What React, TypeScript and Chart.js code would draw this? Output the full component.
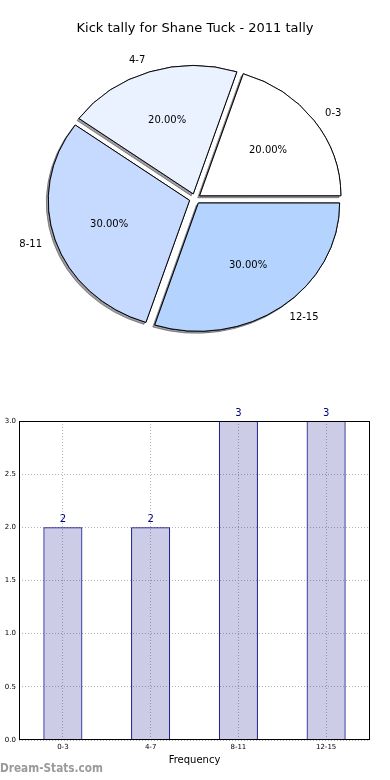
import React, { useEffect, useRef } from "react";
import { Chart, registerables } from "chart.js";

Chart.register(...registerables);

// ---- data ----
const chartTitle = "Kick tally for Shane Tuck - 2011 tally";
const categories = ["0-3", "4-7", "8-11", "12-15"];
const frequencies = [2, 2, 3, 3];
const sliceColors = ["#ffffff", "#eaf2ff", "#c6d9ff", "#b4d4ff"];
const yTickValues = [0, 0.5, 1, 1.5, 2, 2.5, 3];
const xAxisTitle = "Frequency";
const watermark = "Dream-Stats.com";

// ---- style ----
const FONT = "'DejaVu Sans', sans-serif";
const SQUASH = 0.908; // vertical squash of the pie (non-equal aspect)
const PIE_RADIUS = 141;
const EXPLODE = 22.8; // Chart.js arc offset (translation = offset / 4)

const pieDecor = {
  id: "pieDecor",
  beforeDatasetsDraw(chart: any) {
    const ctx = chart.ctx;
    const meta = chart.getDatasetMeta(0);
    const a0 = meta.data[0];
    const cx = a0.x;
    const cy = a0.y;
    ctx.save();
    ctx.translate(cx, cy);
    ctx.scale(1, SQUASH);
    ctx.translate(-cx, -cy);
    // shadow pass
    ctx.save();
    ctx.shadowColor = "rgba(60,60,70,0.5)";
    ctx.shadowOffsetX = -2;
    ctx.shadowOffsetY = 2;
    ctx.shadowBlur = 0;
    meta.data.forEach((a: any) => a.draw(ctx));
    ctx.restore();
  },
  afterDatasetsDraw(chart: any) {
    const ctx = chart.ctx;
    ctx.restore();
    const meta = chart.getDatasetMeta(0);
    const ds = chart.data.datasets[0];
    const total = ds.data.reduce((s: number, v: number) => s + v, 0);
    ctx.save();
    ctx.font = `10px ${FONT}`;
    ctx.fillStyle = "#000";
    ctx.textBaseline = "middle";
    meta.data.forEach((a: any, i: number) => {
      const { x, y, startAngle, endAngle, outerRadius } = a.getProps(
        ["x", "y", "startAngle", "endAngle", "outerRadius"],
        true
      );
      const mid = (startAngle + endAngle) / 2;
      const t = (a.options.offset || 0) / 4;
      const c = Math.cos(mid);
      const s = Math.sin(mid);
      const ex = x + c * t;
      const ey = y + s * t * SQUASH;
      ctx.textAlign = c > 0 ? "left" : "right";
      ctx.fillText(
        chart.data.labels[i],
        ex + c * outerRadius * 1.1,
        ey + s * outerRadius * 1.1 * SQUASH
      );
      ctx.textAlign = "center";
      ctx.fillText(
        ((ds.data[i] / total) * 100).toFixed(2) + "%",
        ex + c * outerRadius * 0.6,
        ey + s * outerRadius * 0.6 * SQUASH
      );
    });
    ctx.restore();
  },
};

const barDecor = {
  id: "barDecor",
  afterDatasetsDraw(chart: any) {
    const ctx = chart.ctx;
    const meta = chart.getDatasetMeta(0);
    const ds = chart.data.datasets[0];
    ctx.save();
    ctx.font = `10px ${FONT}`;
    ctx.fillStyle = "#000080";
    ctx.textAlign = "center";
    ctx.textBaseline = "alphabetic";
    meta.data.forEach((b: any, i: number) => {
      ctx.fillText(String(ds.data[i]), b.x, b.y - 5);
    });
    ctx.restore();
  },
  afterDraw(chart: any) {
    const { left, top, right, bottom } = chart.chartArea;
    const ctx = chart.ctx;
    ctx.save();
    ctx.strokeStyle = "#000";
    ctx.lineWidth = 1;
    ctx.strokeRect(
      Math.round(left) + 0.5,
      Math.round(top) + 0.5,
      Math.round(right - left) - 1,
      Math.round(bottom - top) - 1
    );
    ctx.restore();
  },
};

export default function App() {
  const pieRef = useRef<HTMLCanvasElement>(null);
  const barRef = useRef<HTMLCanvasElement>(null);

  useEffect(() => {
    document.body.style.margin = "0";
    const rev = <T,>(arr: T[]) => [...arr].reverse();

    const pie = new Chart(pieRef.current as HTMLCanvasElement, {
      type: "pie",
      data: {
        labels: rev(categories),
        datasets: [
          {
            data: rev(frequencies),
            backgroundColor: rev(sliceColors),
            borderColor: "#000",
            borderWidth: 1,
            offset: EXPLODE,
          } as any,
        ],
      },
      options: {
        animation: false,
        responsive: false,
        events: [],
        rotation: 90,
        radius: PIE_RADIUS,
        layout: { padding: 0 },
        plugins: {
          legend: { display: false },
          tooltip: { enabled: false },
          title: {
            display: true,
            text: chartTitle,
            color: "#000",
            font: { family: FONT, size: 13, weight: "normal" },
            padding: { top: 21, bottom: 8 },
          },
        },
      } as any,
      plugins: [pieDecor],
    });

    const bar = new Chart(barRef.current as HTMLCanvasElement, {
      type: "bar",
      data: {
        labels: categories,
        datasets: [
          {
            data: frequencies,
            backgroundColor: "rgba(0,0,128,0.2)",
            borderColor: "#000080",
            borderWidth: 1,
            barPercentage: 0.445,
            categoryPercentage: 1,
          },
        ],
      },
      options: {
        animation: false,
        responsive: false,
        events: [],
        layout: { padding: { top: 21, right: 20, bottom: 14, left: 0 } },
        plugins: {
          legend: { display: false },
          tooltip: { enabled: false },
        },
        scales: {
          x: {
            offset: true,
            grid: { offset: false, color: "#b4b4b4", lineWidth: 1, drawTicks: false },
            border: { display: false, dash: [1, 2] },
            ticks: {
              font: { family: FONT, size: 7 },
              color: "#000",
              padding: 3,
              maxRotation: 0,
              autoSkip: false,
            },
            title: {
              display: true,
              text: xAxisTitle,
              color: "#000",
              font: { family: FONT, size: 10 },
              padding: 0,
            },
            afterFit: (s: any) => {
              s.height = 26;
            },
          },
          y: {
            min: 0,
            max: 3,
            grid: { color: "#b4b4b4", lineWidth: 1, drawTicks: false },
            border: { display: false, dash: [1, 2] },
            ticks: {
              font: { family: FONT, size: 7 },
              color: "#000",
              padding: 3,
              callback: (v: any) => Number(v).toFixed(1),
            },
            afterBuildTicks: (s: any) => {
              s.ticks = yTickValues.map((v) => ({ value: v }));
            },
            afterFit: (s: any) => {
              s.width = 19;
            },
          },
        },
      } as any,
      plugins: [barDecor],
    });

    return () => {
      pie.destroy();
      bar.destroy();
    };
  }, []);

  return (
    <div style={{ position: "relative", width: 390, height: 780, background: "#fff" }}>
      <canvas
        ref={pieRef}
        width={390}
        height={353}
        style={{ position: "absolute", left: 0, top: 0, width: 390, height: 353 }}
      />
      <canvas
        ref={barRef}
        width={390}
        height={380}
        style={{ position: "absolute", left: 0, top: 400, width: 390, height: 380 }}
      />
      <div
        style={{
          position: "absolute",
          left: 0,
          top: 760,
          fontFamily: FONT,
          fontSize: 13,
          lineHeight: "15px",
          color: "#9a9a9a",
          fontWeight: "bold",
          whiteSpace: "nowrap",
          transform: "scaleX(0.81)",
          transformOrigin: "0 0",
        }}
      >
        {watermark}
      </div>
    </div>
  );
}
